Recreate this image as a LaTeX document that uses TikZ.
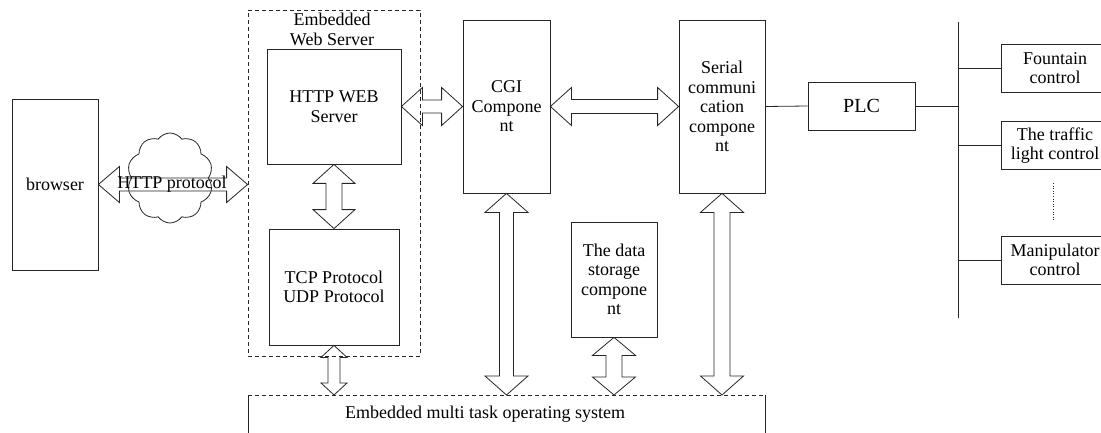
\documentclass[tikz,border=0pt]{standalone}
\usepackage{fontspec}
\setmainfont{Liberation Serif}
\usetikzlibrary{positioning, calc, shapes.symbols}

\begin{document}
\begin{tikzpicture}[
    x=1pt, y=-1pt,
    line width=0.8pt, draw=black!85,
    % Base styles
    basebox/.style={rectangle, draw=black!85, align=center, inner sep=0pt,
        font=\fontsize{18}{19.5}\selectfont},
    compbox/.style={basebox, minimum width=86pt, minimum height=#1},
    ctrlbox/.style={basebox, minimum width=108pt, minimum height=48pt},
    groupbox/.style={rectangle, draw=black!85, dash pattern=on 4pt off 3pt, inner sep=0pt},
    plain/.style={align=center, inner sep=0pt, font=\fontsize{18}{19.5}\selectfont},
    % Hollow double arrows: {head length}{head half width}{shaft half width}
    hdbl/.style n args={3}{to path={let \p1=(\tikztostart), \p2=(\tikztotarget) in
        (\x1,\y1) -- (\x1+#1pt,\y1+#2pt) -- (\x1+#1pt,\y1+#3pt) -- (\x2-#1pt,\y1+#3pt)
        -- (\x2-#1pt,\y1+#2pt) -- (\x2,\y1) -- (\x2-#1pt,\y1-#2pt) -- (\x2-#1pt,\y1-#3pt)
        -- (\x1+#1pt,\y1-#3pt) -- (\x1+#1pt,\y1-#2pt) -- cycle}},
    vdbl/.style n args={3}{to path={let \p1=(\tikztostart), \p2=(\tikztotarget) in
        (\x1,\y1) -- (\x1+#2pt,\y1-#1pt) -- (\x1+#3pt,\y1-#1pt) -- (\x1+#3pt,\y2+#1pt)
        -- (\x1+#2pt,\y2+#1pt) -- (\x1,\y2) -- (\x1-#2pt,\y2+#1pt) -- (\x1-#3pt,\y2+#1pt)
        -- (\x1-#3pt,\y1-#1pt) -- (\x1-#2pt,\y1-#1pt) -- cycle}},
    bigarrow/.style={draw=black!85, line width=0.8pt},
]
\useasboundingbox (0,0) rectangle (1101,433);

% Browser and the HTTP cloud
\node[basebox, minimum width=86pt, minimum height=171pt] (browser) at (55,184.5) {browser};
\node[cloud, draw=black!85, cloud puffs=10, cloud puff arc=110, aspect=1,
      minimum width=86pt, minimum height=90pt, inner sep=0pt] (cloud) at (170,178) {};

% Embedded web server group
\node[groupbox, minimum width=172pt, minimum height=346pt] (websrv) at (334,183) {};
\node[plain] (websrvlabel) at (332,29.5) {Embedded\\Web Server};
\node[basebox, minimum width=134pt, minimum height=115pt] (http) at (334,106.5) {HTTP WEB\\Server};
\node[basebox, minimum width=130pt, minimum height=116pt] (tcp) at (334,287) {TCP Protocol\\UDP Protocol};

% Components
\node[compbox=173pt, minimum width=87pt] (cgi) at (506.5,106.5) {CGI\\Compone\\nt};
\node[compbox=173pt] (serial) at (722,106.5) {Serial\\communi\\cation\\compone\\nt};
\node[compbox=115pt] (storage) at (614,279.5) {The data\\storage\\compone\\nt};

% Operating system (bottom runs off the page)
\node[inner sep=0pt, minimum width=517pt, minimum height=50pt, anchor=north west] (os) at (248,395) {};
\draw[dash pattern=on 4pt off 3pt] (os.north west) -- (os.north east);
\draw (os.north west) -- (os.south west);
\draw (os.north east) -- (os.south east);
\node[plain] (ostext) at (485,414) {Embedded multi task operating system};

% PLC and the controlled devices
\node[basebox, minimum width=107pt, minimum height=48pt, font=\fontsize{20}{22}\selectfont] (plc) at (861.5,106) {PLC};
\coordinate (bustop) at (958,22);
\coordinate (busbot) at (958,318);
\node[ctrlbox] (fountain) at (1055,68) {Fountain\\control};
\node[ctrlbox, below=29pt of fountain] (traffic) {The traffic\\light control};
\node[ctrlbox] (manip) at (1055,260) {Manipulator\\control};
\coordinate (dotA) at (1053,183);
\coordinate (dotB) at (1053,222);

% Double arrows
\draw[bigarrow] (browser.east) to[hdbl={21}{18}{6.5}] (websrv.west);
\node[plain] (httplabel) at (172,184) {HTTP protocol};
\draw[bigarrow] (http.east) to[hdbl={21}{19}{6.5}] (cgi.west);
\draw[bigarrow] (cgi.east) to[hdbl={21}{19}{7}] (serial.west);
\draw[bigarrow] (http.south) to[vdbl={19}{21}{8}] (tcp.north);
\draw[bigarrow] (tcp.south) to[vdbl={12}{13}{6}] (tcp.south |- os.north);
\draw[bigarrow] (cgi.south) to[vdbl={19}{21.5}{7}] (cgi.south |- os.north);
\draw[bigarrow] (storage.south) to[vdbl={18}{21.5}{8}] (storage.south |- os.north);
\draw[bigarrow] (serial.south) to[vdbl={19}{21.5}{8}] (serial.south |- os.north);

% Plain connectors
\draw (serial.east) -- (plc.west);
\draw (plc.east) -- (plc.east -| bustop);
\draw (bustop) -- (busbot);
\draw (fountain.west) -- (fountain.west -| bustop);
\draw (traffic.west) -- (traffic.west -| bustop);
\draw (manip.west) -- (manip.west -| bustop);
\draw[dotted, line width=0.6pt] (dotA) -- (dotB);

\end{tikzpicture}
\end{document}
